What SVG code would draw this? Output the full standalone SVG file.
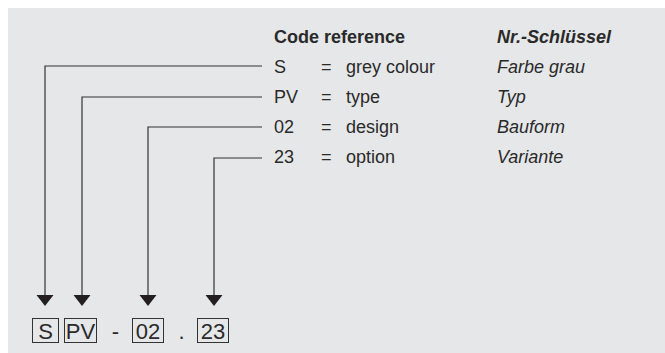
<svg xmlns="http://www.w3.org/2000/svg" width="665" height="353" viewBox="0 0 665 353">
<defs>
<style>
text{font-family:"Liberation Sans",Arial,sans-serif;font-size:18px;fill:#2a2a2a}
.b{font-weight:bold}
.bi{font-weight:bold;font-style:italic}
.i{font-style:italic}
.ln{fill:none;stroke:#333;stroke-width:1.2}
.box{fill:none;stroke:#333;stroke-width:1}
.big{font-size:22px}
</style>
<marker id="ah" markerWidth="12" markerHeight="18" refX="1" refY="9" orient="auto" markerUnits="userSpaceOnUse" viewBox="0 0 12 18">
<path d="M0,0.5 L11,9 L0,17.5 Z" fill="#231f20"/>
</marker>
</defs>
<rect x="8" y="8" width="657" height="345" fill="#e6e7e8"/>
<g id="legend">
<text class="b" x="274" y="43">Code reference</text>
<text class="bi" x="497" y="43">Nr.-Schlüssel</text>
<text x="274" y="73">S</text><text x="321" y="73">=</text><text x="346" y="73">grey colour</text><text class="i" x="497" y="73">Farbe grau</text>
<text x="274" y="103">PV</text><text x="321" y="103">=</text><text x="346" y="103">type</text><text class="i" x="497" y="103">Typ</text>
<text x="274" y="133">02</text><text x="321" y="133">=</text><text x="346" y="133">design</text><text class="i" x="497" y="133">Bauform</text>
<text x="274" y="163">23</text><text x="321" y="163">=</text><text x="346" y="163">option</text><text class="i" x="497" y="163">Variante</text>
</g>
<g id="connectors">
<path class="ln" d="M262,66 H45 V296" marker-end="url(#ah)"/>
<path class="ln" d="M262,97 H82 V296" marker-end="url(#ah)"/>
<path class="ln" d="M262,127 H148 V296" marker-end="url(#ah)"/>
<path class="ln" d="M262,158 H214 V296" marker-end="url(#ah)"/>
</g>
<g id="code">
<g id="box-S"><rect class="box" x="32.5" y="318.5" width="26" height="24"/><text class="big" x="45.5" y="338.5" text-anchor="middle">S</text></g>
<g id="box-PV"><rect class="box" x="64.5" y="318.5" width="32" height="24"/><text class="big" x="80.5" y="338.5" text-anchor="middle">PV</text></g>
<text class="big" x="115.5" y="338.5" text-anchor="middle">-</text>
<g id="box-02"><rect class="box" x="132.5" y="318.5" width="31" height="24"/><text class="big" x="148" y="338.5" text-anchor="middle">02</text></g>
<text class="big" x="181.5" y="338.5" text-anchor="middle">.</text>
<g id="box-23"><rect class="box" x="197.5" y="318.5" width="31" height="24"/><text class="big" x="213" y="338.5" text-anchor="middle">23</text></g>
</g>
</svg>
